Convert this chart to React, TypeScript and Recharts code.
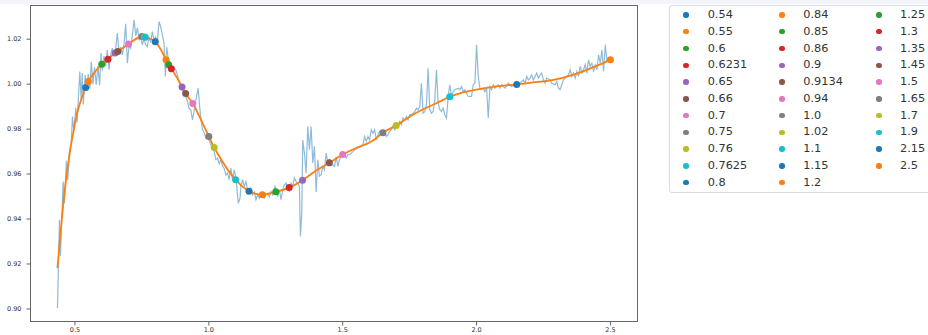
import React from 'react';
import {
  ComposedChart,
  Line,
  Scatter,
  XAxis,
  YAxis,
} from 'recharts';

const noisyPoints: [number, number][] = [
  [0.4345, 0.9004], [0.4382, 0.919], [0.442, 0.9397], [0.4457, 0.9234], [0.4557, 0.9567],
  [0.4607, 0.947], [0.468, 0.9659], [0.473, 0.9575], [0.479, 0.97], [0.4858, 0.9738],
  [0.4907, 0.9856], [0.4956, 0.979], [0.503, 0.9895], [0.508, 0.983], [0.518, 1.0056],
  [0.523, 0.9935], [0.527, 1.005], [0.531, 0.991], [0.5382, 1.004], [0.5432, 0.997],
  [0.5494, 1.0045], [0.5557, 0.998], [0.5607, 1.01], [0.567, 1.0], [0.573, 1.0075],
  [0.5794, 0.9997], [0.5857, 1.008], [0.592, 0.9995], [0.597, 1.0138], [0.602, 1.006],
  [0.6082, 1.0125], [0.6145, 1.008], [0.6207, 1.0152], [0.627, 1.0064], [0.6332, 1.013],
  [0.6395, 1.016], [0.6457, 1.0125], [0.652, 1.016], [0.6582, 1.0227], [0.6645, 1.014],
  [0.6707, 1.0165], [0.677, 1.013], [0.6832, 1.018], [0.6895, 1.0268], [0.6957, 1.0093],
  [0.702, 1.017], [0.7082, 1.016], [0.7145, 1.022], [0.7207, 1.0286], [0.727, 1.0215],
  [0.7332, 1.025], [0.7395, 1.0195], [0.7453, 1.0219], [0.7515, 1.0175], [0.7578, 1.0205],
  [0.764, 1.0175], [0.77, 1.0167], [0.7765, 1.021], [0.7828, 1.0185], [0.789, 1.0234],
  [0.7953, 1.0195], [0.8015, 1.021], [0.8077, 1.019], [0.814, 1.0278], [0.8202, 1.0255],
  [0.8265, 1.022], [0.8327, 1.018], [0.8377, 1.0034], [0.8427, 1.0165], [0.8477, 1.012],
  [0.8552, 1.009], [0.8627, 1.006], [0.8702, 1.0071], [0.8764, 1.0065], [0.8827, 1.004],
  [0.889, 1.001], [0.895, 0.999], [0.9014, 0.997], [0.9076, 0.9965], [0.914, 0.9945],
  [0.9201, 0.9925], [0.9264, 0.989], [0.9326, 0.9886], [0.9388, 0.9841], [0.945, 0.988],
  [0.9525, 0.9935], [0.96, 0.9982], [0.965, 0.991], [0.97, 0.985], [0.9762, 0.9797],
  [0.9825, 0.9785], [0.9887, 0.976], [0.995, 0.9765], [1.0012, 0.975], [1.0075, 0.973],
  [1.0137, 0.9715], [1.02, 0.97], [1.0262, 0.9665], [1.0324, 0.967], [1.0387, 0.9645],
  [1.045, 0.9665], [1.0512, 0.9635], [1.0574, 0.9625], [1.0636, 0.9595], [1.07, 0.9605],
  [1.076, 0.9575], [1.0824, 0.9627], [1.0886, 0.9575], [1.0949, 0.9619], [1.1011, 0.9582],
  [1.1099, 0.9471], [1.1161, 0.949], [1.1199, 0.9545], [1.1261, 0.9575], [1.1323, 0.9545],
  [1.1386, 0.9567], [1.1448, 0.953], [1.1511, 0.9515], [1.1573, 0.9537], [1.1635, 0.9508],
  [1.17, 0.952], [1.176, 0.9486], [1.1823, 0.9508], [1.1885, 0.9493], [1.1948, 0.9515],
  [1.201, 0.95], [1.2072, 0.9493], [1.2135, 0.9508], [1.2197, 0.9515], [1.226, 0.95],
  [1.2322, 0.9523], [1.2385, 0.9508], [1.2472, 0.9545], [1.2572, 0.95], [1.2634, 0.953],
  [1.2697, 0.9486], [1.2759, 0.953], [1.2821, 0.9552], [1.2884, 0.956], [1.2946, 0.953],
  [1.3009, 0.9523], [1.3071, 0.956], [1.3134, 0.9545], [1.3196, 0.9582], [1.3258, 0.9567],
  [1.3321, 0.956], [1.3383, 0.9545], [1.3421, 0.9323], [1.3471, 0.9427], [1.3508, 0.9752],
  [1.3571, 0.9693], [1.3633, 0.9604], [1.3695, 0.9812], [1.3758, 0.9708], [1.382, 0.9812],
  [1.3883, 0.9649], [1.3945, 0.9723], [1.4008, 0.952], [1.407, 0.9664], [1.4132, 0.959],
  [1.4195, 0.9597], [1.4257, 0.9634], [1.432, 0.9619], [1.4382, 0.9693], [1.4445, 0.9649],
  [1.4507, 0.9664], [1.457, 0.9649], [1.4694, 0.9634], [1.4757, 0.9678], [1.482, 0.9634],
  [1.4882, 0.9664], [1.4944, 0.9678], [1.5007, 0.9693], [1.507, 0.9678], [1.5131, 0.9671],
  [1.5194, 0.9686], [1.5256, 0.9686], [1.532, 0.9693], [1.538, 0.97], [1.5443, 0.9708],
  [1.5568, 0.9716], [1.5693, 0.9723], [1.5755, 0.973], [1.5818, 0.9767], [1.588, 0.9745],
  [1.5943, 0.9767], [1.6005, 0.9752], [1.6068, 0.9797], [1.613, 0.9782], [1.6192, 0.9797],
  [1.6255, 0.9752], [1.6317, 0.9775], [1.638, 0.979], [1.6442, 0.979], [1.6567, 0.979],
  [1.663, 0.9767], [1.6692, 0.9775], [1.6754, 0.979], [1.6817, 0.9797], [1.688, 0.9812],
  [1.6942, 0.9797], [1.7066, 0.9819], [1.713, 0.9834], [1.7191, 0.9819], [1.7254, 0.9849],
  [1.7316, 0.9841], [1.738, 0.9856], [1.7441, 0.9841], [1.7504, 0.9864], [1.7566, 0.9864],
  [1.769, 0.9878], [1.7753, 0.9893], [1.7816, 0.9886], [1.7878, 0.99], [1.794, 1.0004],
  [1.8003, 0.9871], [1.8065, 0.9878], [1.8128, 0.9908], [1.819, 1.0071], [1.8253, 0.9886],
  [1.8315, 0.9871], [1.8377, 0.9878], [1.844, 0.993], [1.8502, 1.0064], [1.8565, 0.9916],
  [1.8627, 0.9886], [1.869, 0.9878], [1.8752, 0.9893], [1.8814, 0.9864], [1.8877, 0.9849],
  [1.894, 0.9945], [1.9002, 0.9997], [1.9064, 0.9945], [1.9127, 0.9967], [1.919, 0.9975],
  [1.9314, 0.9982], [1.9377, 0.9975], [1.944, 0.9989], [1.95, 0.9967], [1.9564, 0.9975],
  [1.9626, 0.996], [1.9688, 0.9945], [1.9813, 0.9945], [1.9876, 0.9997], [1.9938, 1.0004],
  [2.0, 1.0175], [2.0063, 1.0034], [2.0125, 0.9982], [2.0188, 0.9975], [2.025, 0.9982],
  [2.0313, 0.9967], [2.0375, 0.9982], [2.0437, 0.9849], [2.05, 0.9989], [2.0562, 0.9975],
  [2.0625, 0.9997], [2.0687, 0.9982], [2.075, 0.9989], [2.0812, 0.9997], [2.0874, 0.9982],
  [2.0936, 0.9997], [2.1061, 0.9982], [2.1186, 1.0004], [2.131, 0.9989], [2.1435, 1.0004],
  [2.1623, 1.0004], [2.1747, 1.0019], [2.181, 1.0004], [2.1872, 1.0034], [2.1935, 1.0019],
  [2.1997, 1.0027], [2.206, 1.0041], [2.2122, 1.0019], [2.2184, 1.0034], [2.2247, 1.0049],
  [2.231, 1.0027], [2.2372, 1.0041], [2.2434, 1.0049], [2.2497, 1.0019], [2.256, 1.0004],
  [2.2622, 1.0027], [2.2746, 1.0019], [2.2809, 1.0004], [2.2933, 0.9997], [2.2996, 1.0012],
  [2.3058, 0.9982], [2.312, 0.9975], [2.3183, 0.9997], [2.3246, 1.0019], [2.3308, 1.0027],
  [2.337, 1.0034], [2.3433, 1.0041], [2.3495, 1.0064], [2.3558, 1.0034], [2.362, 1.0049],
  [2.3683, 1.0027], [2.3745, 1.0056], [2.3807, 1.0034], [2.387, 1.0079], [2.3932, 1.0049],
  [2.3995, 1.0064], [2.4057, 1.0086], [2.412, 1.0049], [2.4182, 1.0108], [2.4244, 1.0079],
  [2.4307, 1.0093], [2.437, 1.0056], [2.4432, 1.0086], [2.4494, 1.0064], [2.4557, 1.013],
  [2.462, 1.0093], [2.4682, 1.0152], [2.4744, 1.0057], [2.4807, 1.0175], [2.487, 1.0101],
  [2.4932, 1.0116], [2.4994, 1.0101],
];

// smoothed fit (orange)
const fitPoints: [number, number][] = [
  [0.4345, 0.9182], [0.4457, 0.9338], [0.458, 0.9486], [0.4768, 0.9664], [0.4932, 0.9782],
  [0.5082, 0.9871], [0.527, 0.9945], [0.54, 0.9985], [0.55, 1.0012], [0.575, 1.0055],
  [0.6, 1.0089], [0.6231, 1.0111], [0.65, 1.0138], [0.66, 1.0145], [0.7, 1.0178],
  [0.75, 1.0212], [0.7625, 1.0209], [0.8, 1.0189], [0.82, 1.0155], [0.84, 1.0108],
  [0.85, 1.0086], [0.86, 1.0068], [0.88, 1.003], [0.9, 0.9987], [0.9134, 0.9958],
  [0.94, 0.9914], [0.97, 0.9843], [1.0, 0.9767], [1.02, 0.9718], [1.05, 0.9657],
  [1.075, 0.9612], [1.1, 0.9575], [1.125, 0.9545], [1.15, 0.9524], [1.175, 0.9512],
  [1.2, 0.9508], [1.25, 0.9521], [1.3, 0.954], [1.35, 0.9573], [1.4, 0.9615],
  [1.45, 0.965], [1.5, 0.9687], [1.55, 0.9716], [1.6, 0.974], [1.62, 0.9755],
  [1.65, 0.9784], [1.7, 0.9816], [1.75, 0.9855], [1.8, 0.9888], [1.85, 0.9915],
  [1.9, 0.9944], [1.95, 0.9963], [2.0, 0.9976], [2.05, 0.9986], [2.1, 0.9993],
  [2.15, 0.9998], [2.2, 1.0006], [2.25, 1.0012], [2.3, 1.0022], [2.35, 1.0038],
  [2.4, 1.0058], [2.45, 1.0082], [2.5, 1.0108],
];

const markerLabels = [
  '0.54', '0.55', '0.6', '0.6231', '0.65', '0.66', '0.7', '0.75', '0.76', '0.7625', '0.8',
  '0.84', '0.85', '0.86', '0.9', '0.9134', '0.94', '1.0', '1.02', '1.1', '1.15', '1.2',
  '1.25', '1.3', '1.35', '1.45', '1.5', '1.65', '1.7', '1.9', '2.15', '2.5',
];
const markerY = [
  0.9985, 1.0012, 1.0089, 1.0111, 1.0138, 1.0145, 1.0178, 1.0212, 1.021, 1.0209, 1.0189,
  1.0108, 1.0086, 1.0068, 0.9987, 0.9958, 0.9914, 0.9767, 0.9718, 0.9575, 0.9524, 0.9508,
  0.9521, 0.954, 0.9573, 0.965, 0.9687, 0.9784, 0.9816, 0.9944, 0.9998, 1.0108,
];

const xTicks = [0.5, 1.0, 1.5, 2.0, 2.5];
const yTicks = [0.9, 0.92, 0.94, 0.96, 0.98, 1.0, 1.02];

const tab10 = [
  '#1f77b4', '#ff7f0e', '#2ca02c', '#d62728', '#9467bd',
  '#8c564b', '#e377c2', '#7f7f7f', '#bcbd22', '#17becf',
];

const noisyData = noisyPoints.map(([x, y]) => ({ x, y }));
const fitData = fitPoints.map(([x, y]) => ({ x, y }));
const markerData = markerLabels.map((label, i) => ({
  x: parseFloat(label),
  y: markerY[i],
  color: tab10[i % 10],
}));

const FONT = '"DejaVu Sans", sans-serif';
const AXIS = '#666';

const MarkerDot = (props: any) => {
  const { cx, cy, payload } = props;
  return <circle cx={cx} cy={cy} r={3.5} fill={payload.color} />;
};

const colDot = [686, 782, 879];
const colText = [707.7, 803.3, 900];

const Legend = () => (
  <>
    <div
      style={{
        position: 'absolute',
        left: 669,
        top: 5,
        width: 300,
        height: 188,
        border: '1px solid #dcdcdc',
        borderRadius: 3,
        background: '#fff',
        boxSizing: 'border-box',
      }}
    />
    {markerData.map((m, i) => {
      const col = Math.floor(i / 11);
      const row = i % 11;
      const cy = 15 + row * 16.77;
      return (
        <React.Fragment key={markerLabels[i]}>
          <div
            style={{
              position: 'absolute',
              left: colDot[col] - 2.7,
              top: cy - 2.7,
              width: 5.4,
              height: 5.4,
              borderRadius: '50%',
              background: m.color,
            }}
          />
          <div
            style={{
              position: 'absolute',
              left: colText[col],
              top: cy - 8,
              height: 16,
              lineHeight: '16px',
              fontSize: 11.3,
              fontFamily: FONT,
              color: '#333',
              whiteSpace: 'nowrap',
            }}
          >
            {markerLabels[i]}
          </div>
        </React.Fragment>
      );
    })}
  </>
);

export default function App() {
  return (
    <div
      style={{
        position: 'fixed',
        left: 0,
        top: 0,
        width: 928,
        height: 335,
        overflow: 'hidden',
        background: '#fff',
      }}
    >
      <div style={{ position: 'absolute', left: 0, top: 0, width: 928, height: 4, background: '#f4f5fa' }} />
      <div style={{ position: 'absolute', left: 0, top: 0 }}>
        <ComposedChart
          width={928}
          height={335}
          margin={{ top: 5, right: 290, bottom: 0, left: 0 }}
        >
          <XAxis
            type="number"
            dataKey="x"
            domain={[0.332, 2.603]}
            ticks={xTicks}
            allowDataOverflow
            height={13}
            axisLine={false}
            tickLine={{ stroke: AXIS }}
            tickSize={3.5}
            tickMargin={1.5}
            tick={{ fill: '#333', fontSize: 6.5, fontFamily: FONT }}
            tickFormatter={(v: number) => v.toFixed(1)}
          />
          <YAxis
            type="number"
            dataKey="y"
            domain={[0.8942, 1.0352]}
            ticks={yTicks}
            allowDataOverflow
            width={30}
            axisLine={false}
            tickLine={{ stroke: AXIS }}
            tickSize={3.5}
            tickMargin={5}
            tick={{ fill: '#333', fontSize: 6.5, fontFamily: FONT }}
            tickFormatter={(v: number) => v.toFixed(2)}
          />
          <Line
            data={noisyData}
            dataKey="y"
            type="linear"
            stroke="#1f77b4"
            strokeOpacity={0.5}
            strokeWidth={1.2}
            dot={false}
            activeDot={false}
            isAnimationActive={false}
          />
          <Line
            data={fitData}
            dataKey="y"
            type="monotone"
            stroke="#ff7f0e"
            strokeWidth={1.8}
            dot={false}
            activeDot={false}
            isAnimationActive={false}
          />
          <Scatter
            data={markerData}
            dataKey="y"
            shape={<MarkerDot />}
            isAnimationActive={false}
          />
        </ComposedChart>
      </div>
      <div
        style={{
          position: 'absolute',
          left: 30,
          top: 5,
          width: 608,
          height: 317,
          border: `1px solid ${AXIS}`,
          boxSizing: 'border-box',
          pointerEvents: 'none',
          marginLeft: -0.5,
          marginTop: -0.5,
        }}
      />
      <Legend />
    </div>
  );
}
